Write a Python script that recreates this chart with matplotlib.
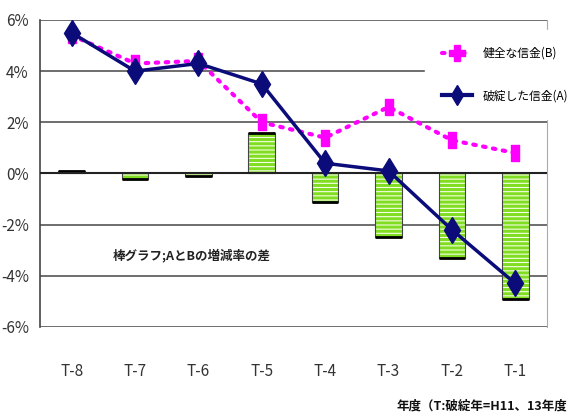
import matplotlib
matplotlib.use("Agg")
import matplotlib.pyplot as plt
from matplotlib.lines import Line2D
import numpy as np

plt.rcParams['font.family'] = ['Noto Sans CJK JP', 'DejaVu Sans']
plt.rcParams['hatch.linewidth'] = 2.2

categories = ["T-8", "T-7", "T-6", "T-5", "T-4", "T-3", "T-2", "T-1"]
failed_A = [5.5, 4.0, 4.3, 3.5, 0.4, 0.1, -2.2, -4.3]
healthy_B = [5.4, 4.3, 4.4, 2.0, 1.4, 2.6, 1.3, 0.8]
diff_bars = [0.1, -0.2, -0.1, 1.6, -1.1, -2.5, -3.3, -4.9]
yticks = [-6, -4, -2, 0, 2, 4, 6]
ytick_labels = ["-6%", "-4%", "-2%", "0%", "2%", "4%", "6%"]

fig = plt.figure(figsize=(5.77, 4.19), dpi=100)
ax = fig.add_axes([0.0693, 0.2196, 0.8787, 0.7327])
x = np.arange(len(categories))

for y in yticks:
    ax.axhline(y, color='#555555', lw=1.2, zorder=1)

ax.bar(x, diff_bars, width=0.42, color='#f6ffe6', edgecolor='#80dd22',
       hatch='----', linewidth=0, zorder=2)
ax.bar(x, diff_bars, width=0.42, fill=False, edgecolor='#444444',
       linewidth=0.8, zorder=2.5)
ax.hlines(diff_bars, x - 0.21, x + 0.21, color='black', lw=2, zorder=2.6)
ax.axhline(0, color='#222222', lw=1.5, zorder=2.7)

rect = [(-0.5, -1), (0.5, -1), (0.5, 1), (-0.5, 1), (-0.5, -1)]
ax.plot(x, healthy_B, color='#ff00ff', lw=3, ls=(0, (0.6, 1.8)),
        dash_capstyle='round', marker=rect, markersize=12,
        markerfacecolor='#ff00ff', markeredgecolor='#ff00ff', zorder=3)
ax.plot(x, failed_A, color='#0b0b7a', lw=2.5, marker='d', markersize=13,
        markerfacecolor='#0b0b7a', markeredgecolor='#0b0b7a', zorder=4)

ax.set_xlim(-0.5, len(categories) - 0.5)
ax.set_ylim(-6, 6)
ax.set_yticks(yticks)
ax.set_yticklabels(ytick_labels, fontsize=11, color='#333333')
ax.set_xticks(x)
ax.set_xticklabels(categories, fontsize=11, color='#333333')
ax.tick_params(length=0)
ax.tick_params(axis='x', pad=26)
ax.tick_params(axis='y', pad=8)
for s in ['top', 'bottom']:
    ax.spines[s].set_visible(False)
ax.spines['left'].set_color('#444444')
ax.spines['left'].set_linewidth(1.2)
ax.spines['right'].set_color('#aaaaaa')

ax.text(1.9, -3.2, "棒グラフ;AとBの増減率の差", fontsize=9, ha='center',
        va='center', color='#222222', fontweight='bold')

# legend
handles = [
    Line2D([], [], color='#ff00ff', lw=3, ls=(0, (0.6, 1.8)), dash_capstyle='round',
           marker='P', markersize=12, markerfacecolor='#ff00ff', markeredgecolor='#ff00ff'),
    Line2D([], [], color='#0b0b7a', lw=3, marker='d', markersize=10,
           markerfacecolor='#0b0b7a', markeredgecolor='#0b0b7a'),
]
leg = fig.legend(handles, ["健全な信金(B)", "破綻した信金(A)"],
                 loc='upper left', bbox_to_anchor=(0.737, 0.928), frameon=True,
                 fontsize=8.5, labelspacing=2.5, handlelength=2.6,
                 borderpad=1.4, handletextpad=0.9, borderaxespad=0)
leg.get_frame().set_facecolor('white')
leg.get_frame().set_edgecolor('white')
leg.get_frame().set_alpha(1)
leg.set_zorder(10)

fig.text(0.688, 0.03, "年度（T:破綻年=H11、13年度", fontsize=9,
         color='#111111', ha='left', va='center', fontweight='bold')

fig.savefig("out.png", dpi=100)
